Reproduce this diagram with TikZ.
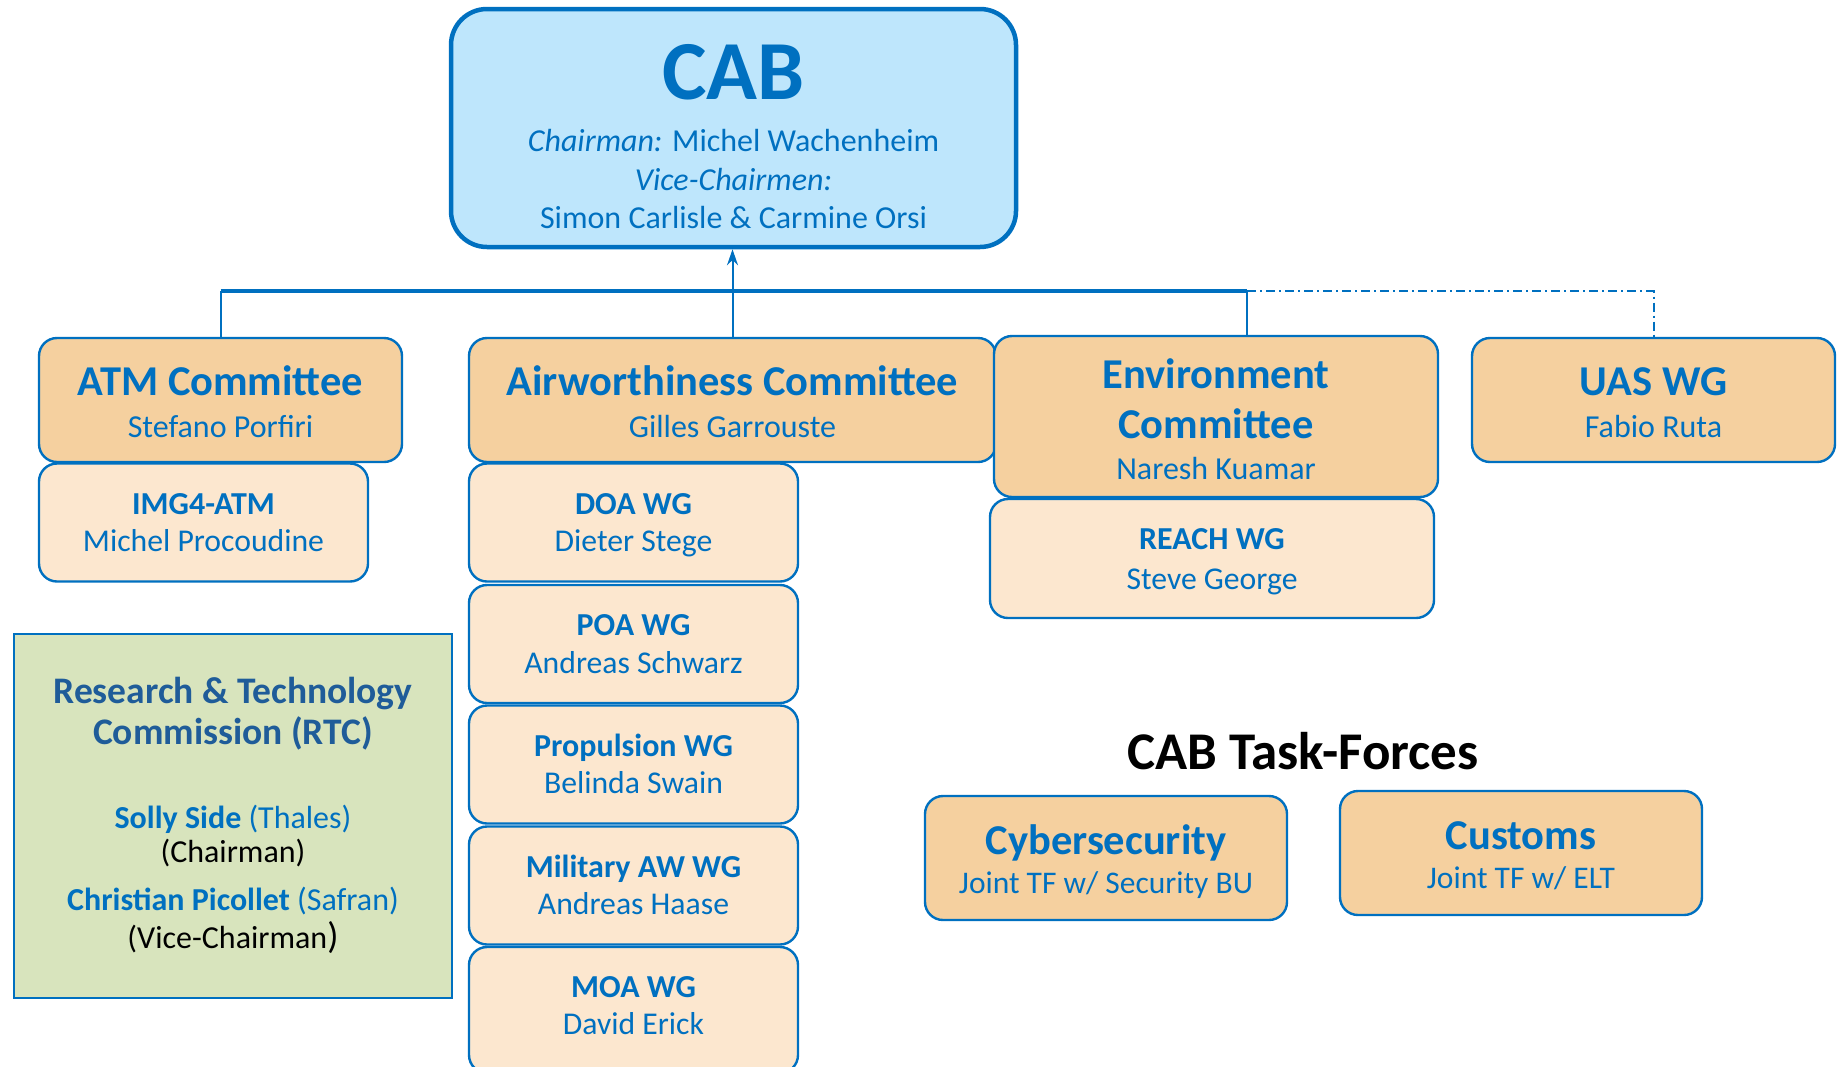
\documentclass[tikz,border=0pt]{standalone}
\usepackage{fontspec}
\setmainfont{Carlito}
\usetikzlibrary{arrows.meta}
\definecolor{cabblue}{HTML}{0070C0}
\definecolor{cabfill}{HTML}{BEE6FC}
\definecolor{peach}{HTML}{F5D09F}
\definecolor{lightpeach}{HTML}{FCE7CF}
\definecolor{rtcfill}{HTML}{D8E4BD}
\definecolor{rtcblue}{HTML}{1F5C99}
\newcommand{\fs}[2]{\fontsize{#1}{#2}\selectfont}
\newcommand{\ctitle}{\fs{42.5}{42}\bfseries}
\newcommand{\toproom}[1]{\rule{0pt}{#1}}
\newcommand{\botroom}[1]{\rule[-#1]{0pt}{0pt}}

\begin{document}
\begin{tikzpicture}[x=1pt, y=-1pt,
    box/.style={draw=cabblue, line width=2.4pt, rounded corners=18pt, text=cabblue, align=center, inner sep=0pt},
    comm/.style={box, fill=peach, minimum width=363pt, minimum height=124pt, font=\fs{32}{42}},
    wg/.style={box, fill=lightpeach, minimum width=329pt, minimum height=118pt, font=\fs{31.7}{37.4}},
    link/.style={cabblue, line width=2pt}]
  \useasboundingbox (0,0) rectangle (1838,1066);
  \node[box, line width=4.5pt, rounded corners=36pt, fill=cabfill, minimum width=565pt, minimum height=238pt, font=\fs{32}{38.5}] (cab) at (733.5,128)
    {\fs{84}{38.5}\bfseries\toproom{82pt}CAB\\[14pt]{\itshape Chairman:} Michel Wachenheim\\{\itshape Vice-Chairmen:}\\Simon Carlisle \& Carmine Orsi\botroom{10pt}};
  \node[comm] (atm) at (220.5,400) {\ctitle\toproom{42pt}ATM Committee\\Stefano Porfiri\botroom{10pt}};
  \node[wg] (img) at (203.5,522.5) {\fs{32}{37.4}\bfseries\toproom{31pt}IMG4-ATM\\Michel Procoudine\botroom{10pt}};
  \node[comm, minimum width=527pt] (aw) at (732.5,400) {\ctitle\toproom{42pt}Airworthiness Committee\\Gilles Garrouste\botroom{10pt}};
  \node[wg] (doa) at (633.5,522.5) {\fs{32}{37.4}\bfseries\toproom{31pt}DOA WG\\Dieter Stege\botroom{10pt}};
  \node[wg] (poa) at (633.5,644) {\fs{32}{37.4}\bfseries\toproom{31pt}POA WG\\Andreas Schwarz\botroom{10pt}};
  \node[wg] (prop) at (633.5,764.5) {\fs{32}{37.4}\bfseries\toproom{31pt}Propulsion WG\\Belinda Swain\botroom{10pt}};
  \node[wg] (mil) at (633.5,885.5) {\fs{32}{37.4}\bfseries\toproom{31pt}Military AW WG\\Andreas Haase\botroom{10pt}};
  \node[wg, minimum height=126pt] (moa) at (633.5,1010) {\fs{32}{37.4}\bfseries\toproom{31pt}MOA WG\\David Erick\botroom{19pt}};
  \node[comm, minimum width=444pt, minimum height=161pt, font=\fs{32}{40.5}] (env) at (1216,416.5)
    {\ctitle\toproom{44.5pt}Environment\\[9.5pt]\ctitle Committee\\Naresh Kuamar\botroom{10pt}};
  \node[wg, minimum width=444pt, minimum height=119pt, font=\fs{31.7}{40}] (reach) at (1212,558.5) {\fs{32}{40}\bfseries\toproom{31pt}REACH WG\\Steve George\botroom{10pt}};
  \node[comm] (uas) at (1653.5,400) {\ctitle\toproom{42pt}UAS WG\\Fabio Ruta\botroom{10pt}};
  \node[draw=cabblue, line width=2.6pt, fill=rtcfill, minimum width=438pt, minimum height=364pt, align=center, inner sep=0pt, font=\fs{32}{34}] (rtc) at (233,816)
    {\fs{37.5}{34}\bfseries\color{rtcblue}\toproom{30pt}Research \& Technology\\[6pt]\fs{37.5}{34}\bfseries\color{rtcblue}Commission (RTC)\\[49.5pt]
     \bfseries\color{cabblue}Solly Side \mdseries(Thales)\\(Chairman)\\[14pt]
     \bfseries\color{cabblue}Christian Picollet \mdseries(Safran)\\[4pt](Vice-Chairman{\fs{37}{34})}\botroom{10pt}};
  \node (tf) at (1303,751) {\fs{53}{53}\bfseries CAB Task-Forces};
  \node[comm, minimum width=362pt, font=\fs{31.5}{39.3}] (cyber) at (1106,858) {\fs{42.5}{39.3}\bfseries\toproom{41.3pt}Cybersecurity\\Joint TF w/ Security BU\botroom{10pt}};
  \node[comm, minimum width=362pt, font=\fs{31.5}{39.3}] (customs) at (1521,853) {\fs{42.5}{39.3}\bfseries\toproom{41.3pt}Customs\\Joint TF w/ ELT\botroom{10pt}};
  \coordinate (bus) at (0,291);
  \coordinate (envdrop) at (1247,336);
  \draw[link] (atm.north) -- (atm.north |- bus);
  \draw[link, line width=4pt] (atm.north |- bus) -- (envdrop |- bus);
  \draw[link] (envdrop |- bus) -- (envdrop);
  \draw[link, -{Stealth[length=16pt,width=11pt]}] (aw.north) -- (aw.north |- cab.south);
  \draw[link, dash pattern=on 9pt off 4pt on 2pt off 4pt] (envdrop |- bus) -| (uas.north);
\end{tikzpicture}
\end{document}
